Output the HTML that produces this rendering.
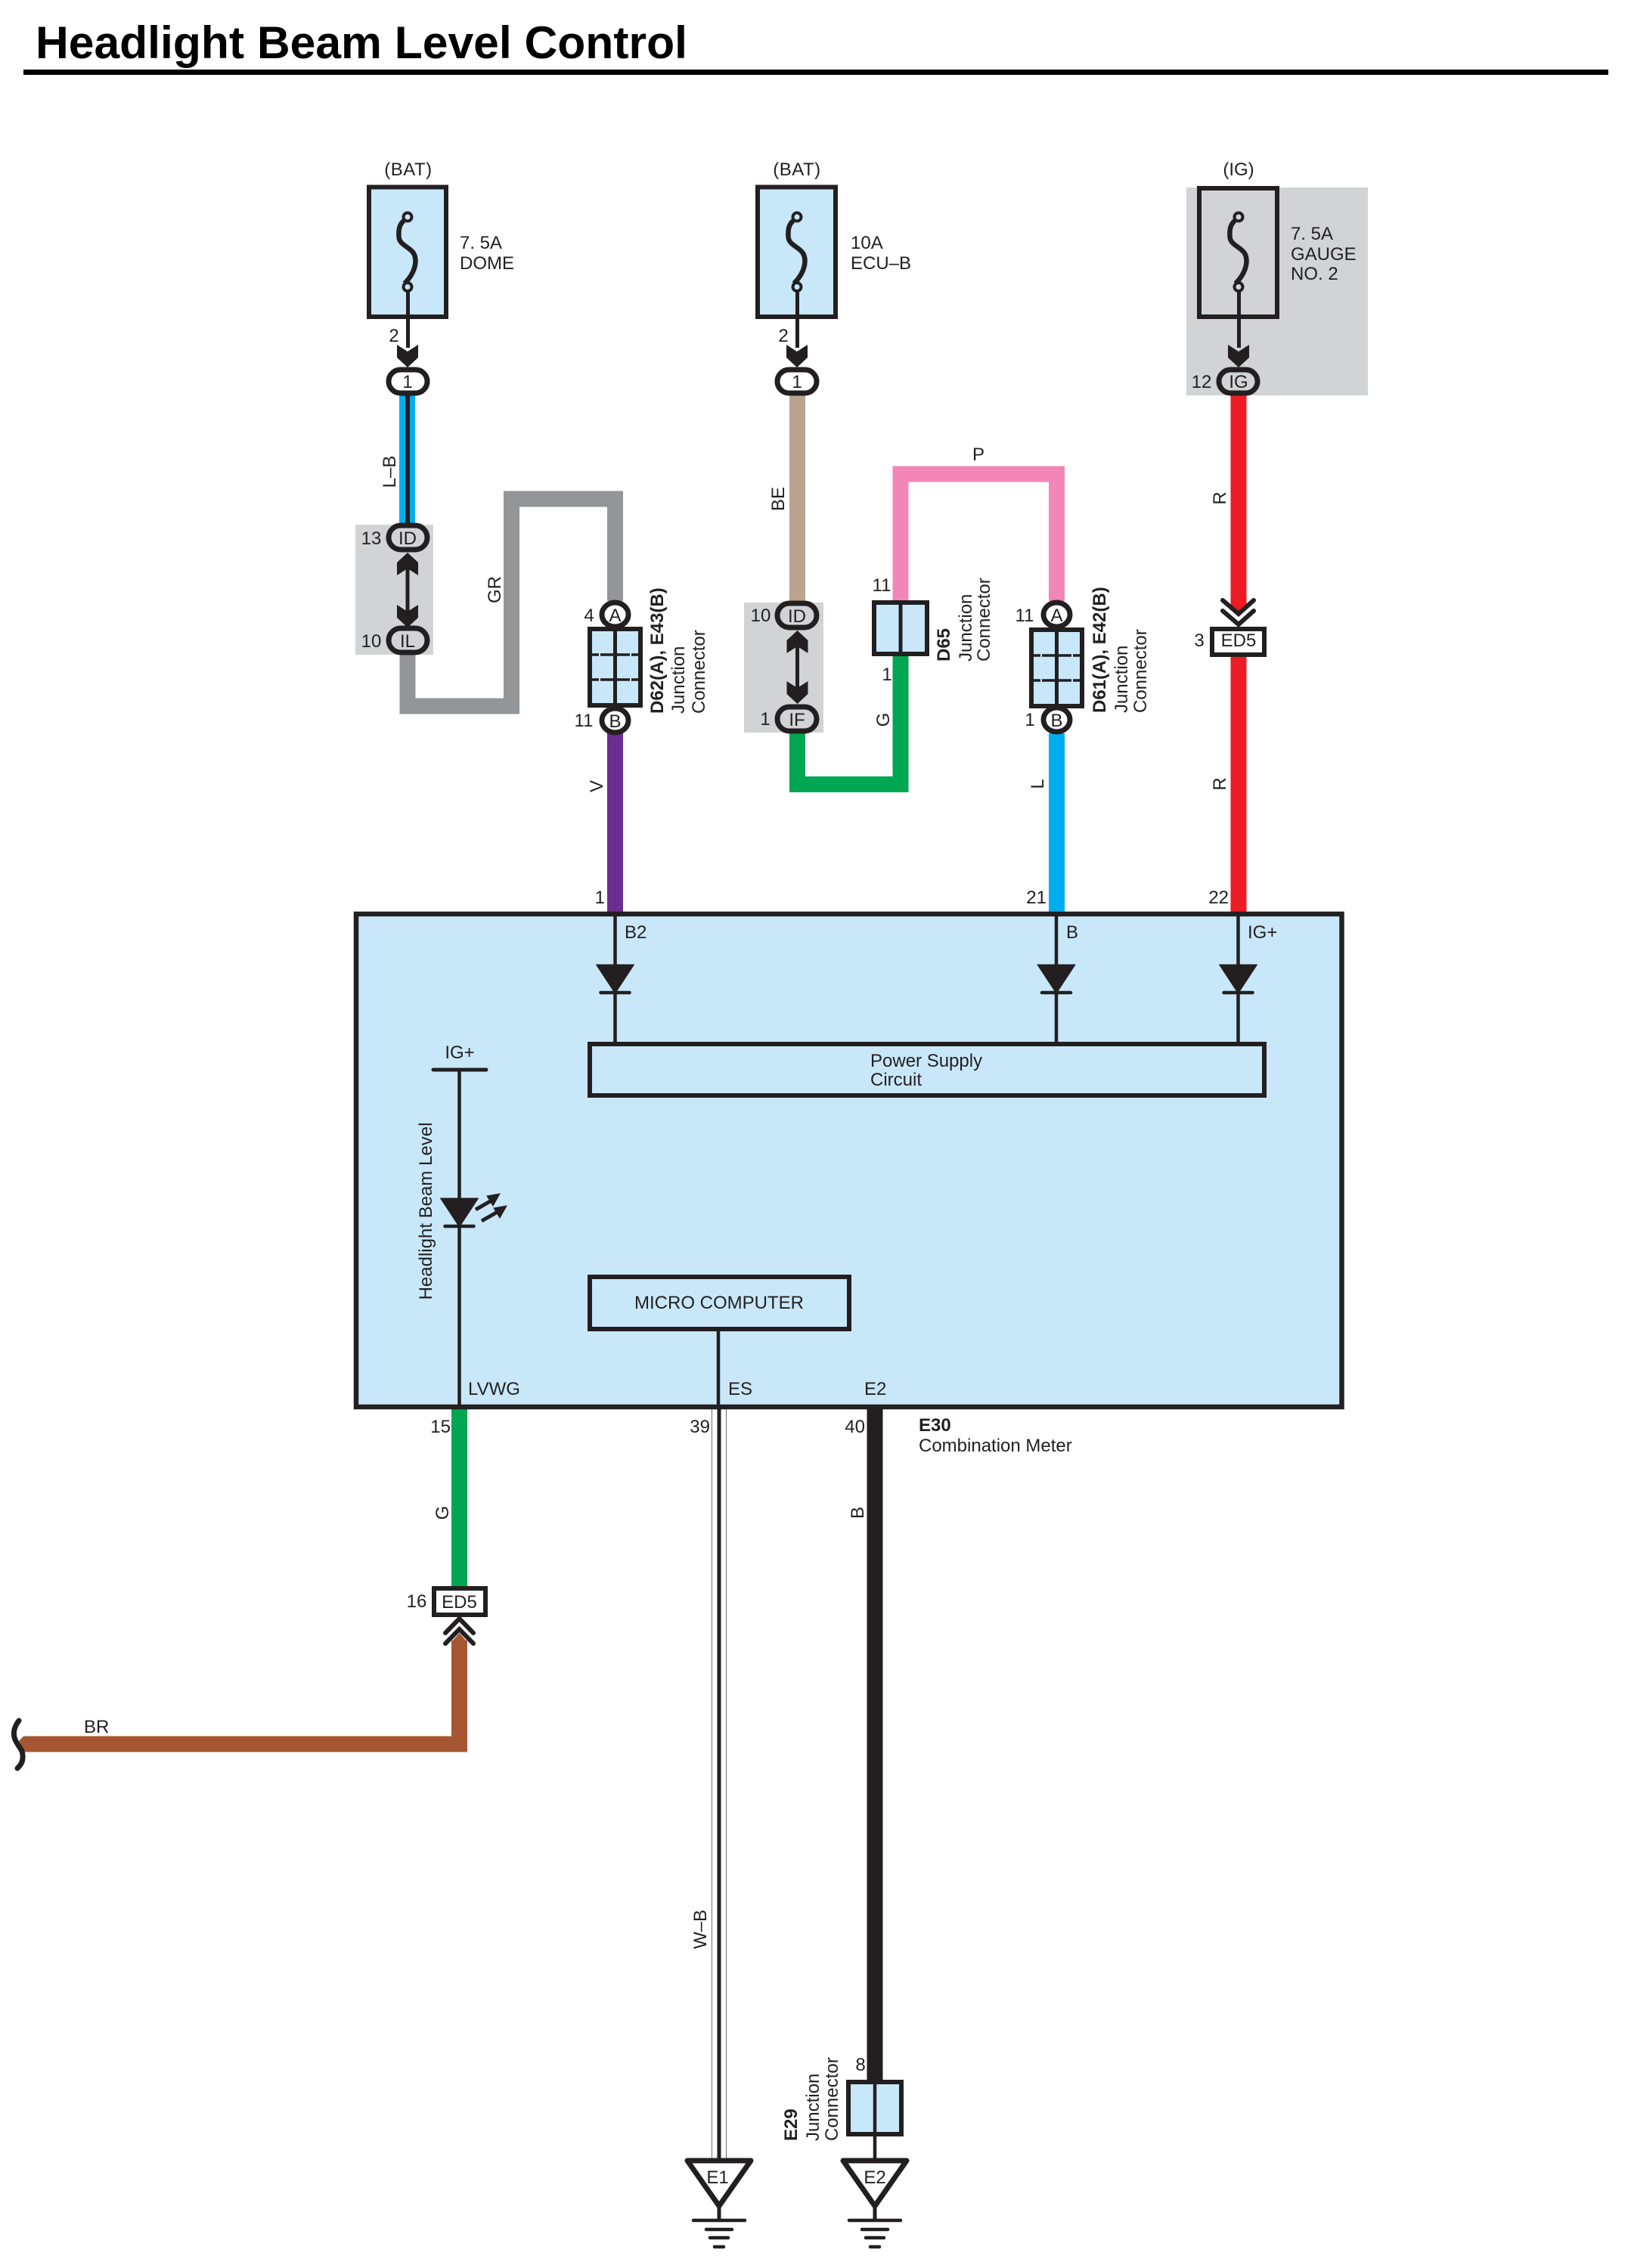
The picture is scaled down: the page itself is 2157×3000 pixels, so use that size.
<!DOCTYPE html>
<html>
<head>
<meta charset="utf-8">
<title>Headlight Beam Level Control</title>
<style>
html,body{margin:0;padding:0;background:#fff}
svg{display:block}
text{font-family:"Liberation Sans",sans-serif;font-size:24px;fill:#231f20}
.b{font-weight:bold}
.m{text-anchor:middle}
.e{text-anchor:end}
</style>
</head>
<body>
<svg xmlns="http://www.w3.org/2000/svg" width="2157" height="3000" viewBox="0 0 2157 3000">
<defs>
  <g id="fuse">
    <path d="M-5,292C-11,297 -12,304 -11.500,313C-11,324 2,326 8,335C13,344 11,360 -4,375" fill="none" stroke="#231f20" stroke-width="6.500"/>
    <circle cx="0" cy="287" r="5.500" stroke="#231f20" stroke-width="4"/>
    <circle cx="0" cy="379.500" r="5.500" stroke="#231f20" stroke-width="4"/>
    <path d="M0.500,385V460" stroke="#231f20" stroke-width="5"/>
    <path d="M-14,456L0,465L14,456V473L0,486L-14,473Z" fill="#231f20"/>
  </g>
  <path id="chD" d="M-14,-30L0,-21L14,-30V-13L0,0L-14,-13Z" fill="#231f20"/>
  <g id="jbox">
    <rect x="-33" y="0" width="67" height="101" fill="#c8e8fa" stroke="#231f20" stroke-width="6"/>
    <path d="M0.500,0V101" stroke="#231f20" stroke-width="5"/>
    <path d="M-30,34H-21M-19,34H-2M3,34H20M22,34H31M-30,67H-21M-19,67H-2M3,67H20M22,67H31" stroke="#231f20" stroke-width="3.500"/>
  </g>
  <g id="diode">
    <path d="M-25,0H25L2,35H-2Z" fill="#231f20" stroke="#231f20" stroke-width="1" stroke-linejoin="round"/>
    <path d="M-19,37H19" stroke="#231f20" stroke-width="4.500" stroke-linecap="round"/>
  </g>
  <g id="gnd" fill="none" stroke="#231f20">
    <path d="M-42,2858H42L0,2918Z" fill="#fff" stroke-width="7" stroke-linejoin="round"/>
    <path d="M0,2920V2937" stroke-width="5"/>
    <path d="M-34,2937H34M-17,2949H17M-12,2960H12M-6,2972H6" stroke-width="4.500" stroke-linecap="round"/>
  </g>
</defs>

<rect width="2157" height="3000" fill="#fff"/>

<!-- title -->
<text x="47" y="77" class="b" style="font-size:60.6px;fill:#000">Headlight Beam Level Control</text>
<rect x="31" y="92" width="2096" height="7" fill="#000"/>

<!-- grey backgrounds -->
<rect x="470" y="694" width="103" height="172" fill="#d1d3d4"/>
<rect x="984" y="797" width="105" height="172" fill="#d1d3d4"/>
<rect x="1569" y="248" width="240" height="275" fill="#d1d3d4"/>

<!-- wires -->
<g fill="none" stroke-width="21" stroke-linejoin="miter">
  <path d="M539,866V934H676.500V660H813.500V795" stroke="#939598"/>
  <path d="M1054.500,520V800" stroke="#b9a48f"/>
  <path d="M1054.500,965V1037.500H1191V866" stroke="#00a651"/>
  <path d="M1191,796V627H1397.500V795" stroke="#f287b7"/>
  <path d="M813.500,970V1206" stroke="#6c2d91"/>
  <path d="M1397.500,970V1206" stroke="#00aeef"/>
  <path d="M1638,868V1206" stroke="#ed1c24"/>
  <path d="M607.500,1862V2100" stroke="#00a651"/>
  <path d="M1157,1862V2752" stroke="#231f20"/>
  <path d="M36,2307H607.500V2170" stroke="#a65631"/>
</g>
<path d="M31,2296.500L25,2303L31,2317.500H40V2296.500Z" fill="#a65631"/>
<path d="M1627.500,522H1648.500V805L1638,815L1627.500,805Z" fill="#ed1c24"/>
<path d="M597,2172L607.500,2160L618,2172V2180H597Z" fill="#a65631"/>

<!-- L-B wire -->
<rect x="528" y="520" width="21" height="176" fill="#00aeef"/>
<rect x="536" y="520" width="6" height="176" fill="#231f20"/>

<!-- W-B wire -->
<rect x="941.500" y="1862" width="19" height="994" fill="#fff" stroke="#6d6e71" stroke-width="1"/>
<rect x="948.500" y="1862" width="5" height="994" fill="#231f20"/>

<!-- fuses -->
<g fill="#c8e8fa">
  <rect x="488" y="247.500" width="102" height="171.500" stroke="#231f20" stroke-width="6"/>
  <use href="#fuse" transform="translate(539,0)"/>
  <rect x="1002" y="247.500" width="103" height="171.500" stroke="#231f20" stroke-width="6"/>
  <use href="#fuse" transform="translate(1054,0)"/>
</g>
<g fill="#d1d3d4">
  <rect x="1586" y="249" width="103" height="170" stroke="#231f20" stroke-width="6"/>
  <use href="#fuse" transform="translate(1638,0)"/>
</g>

<!-- double arrows -->
<path d="M539,750V812M1054.500,852V912" stroke="#231f20" stroke-width="5"/>
<use href="#chD" transform="translate(539,830)"/>
<use href="#chD" transform="translate(539,731) scale(1,-1)"/>
<use href="#chD" transform="translate(1054.500,931)"/>
<use href="#chD" transform="translate(1054.500,834) scale(1,-1)"/>

<!-- ovals -->
<g stroke="#231f20" stroke-width="7">
  <rect x="514" y="489" width="51" height="31" rx="15.500" fill="#fff"/>
  <rect x="514" y="695" width="51" height="32" rx="16" fill="#d1d3d4"/>
  <rect x="514" y="831" width="51" height="32" rx="16" fill="#d1d3d4"/>
  <rect x="1028" y="489" width="52" height="31" rx="15.500" fill="#fff"/>
  <rect x="1028" y="798" width="52" height="32" rx="16" fill="#d1d3d4"/>
  <rect x="1028" y="935" width="52" height="32" rx="16" fill="#d1d3d4"/>
  <rect x="1612" y="489" width="51" height="31" rx="15.500" fill="#d1d3d4"/>
  <ellipse cx="813.500" cy="813" rx="17.500" ry="16" fill="#fff"/>
  <ellipse cx="813.500" cy="953" rx="17.500" ry="16" fill="#fff"/>
  <ellipse cx="1397.500" cy="813" rx="17.500" ry="16" fill="#fff"/>
  <ellipse cx="1397.500" cy="952" rx="17.500" ry="16" fill="#fff"/>
</g>

<!-- junction connectors -->
<use href="#jbox" transform="translate(813,832)"/>
<use href="#jbox" transform="translate(1397,833)"/>
<g>
  <rect x="1156" y="797" width="70" height="68" fill="#c8e8fa" stroke="#231f20" stroke-width="6"/>
  <path d="M1191,797V865" stroke="#231f20" stroke-width="5"/>
</g>

<!-- ED5 connectors -->
<rect x="1603" y="832" width="69" height="34" fill="#fff" stroke="#231f20" stroke-width="6"/>
<path d="M1617,794L1638,812L1658,794M1617,808L1638,826L1658,808" fill="none" stroke="#231f20" stroke-width="6" stroke-linecap="round"/>
<rect x="574" y="2101" width="68" height="35" fill="#fff" stroke="#231f20" stroke-width="6"/>
<path d="M589,2160L607.500,2141L626,2160M589,2174L607.500,2155L626,2174" fill="none" stroke="#231f20" stroke-width="6" stroke-linecap="round"/>

<!-- squiggle -->
<path d="M25,2276C18,2285 17,2294 20,2301C24,2311 31,2314 30,2325C30,2331 27,2335 23,2339" fill="none" stroke="#231f20" stroke-width="7" stroke-linecap="round"/>

<!-- main box -->
<rect x="471" y="1209" width="1303.500" height="652" fill="#c8e8fa" stroke="#231f20" stroke-width="6.500"/>
<g stroke="#231f20" stroke-width="4.500" fill="none">
  <path d="M813.500,1210V1380M1397,1210V1380M1637.500,1210V1380"/>
  <path d="M607.500,1415V1862M950,1760V1862"/>
  <path d="M573,1415H643" stroke-linecap="round" stroke-width="5"/>
</g>
<use href="#diode" transform="translate(813.500,1276)"/>
<use href="#diode" transform="translate(1397,1276)"/>
<use href="#diode" transform="translate(1637.500,1276)"/>
<use href="#diode" transform="translate(607.500,1585)"/>
<rect x="780" y="1381" width="892" height="68" fill="#c8e8fa" stroke="#231f20" stroke-width="6"/>
<rect x="780" y="1689" width="343" height="69" fill="#c8e8fa" stroke="#231f20" stroke-width="6"/>
<!-- LED arrows -->
<g stroke="#231f20" fill="#231f20">
  <path d="M629,1600L650,1588" stroke-width="5"/>
  <path d="M661,1579L644,1582L652,1595Z" stroke-width="1"/>
  <path d="M637,1615L658,1603" stroke-width="5"/>
  <path d="M670,1595L653,1598L661,1611Z" stroke-width="1"/>
</g>

<!-- E29 -->
<rect x="1122" y="2754" width="70" height="69" fill="#c8e8fa" stroke="#231f20" stroke-width="6"/>
<path d="M1157,2754V2860" stroke="#231f20" stroke-width="4.500"/>

<!-- grounds -->
<use href="#gnd" transform="translate(951,0)"/>
<use href="#gnd" transform="translate(1157,0)"/>

<!-- text -->
<text x="540" y="232" class="m" style="letter-spacing:.5px">(BAT)</text>
<text x="1054" y="232" class="m" style="letter-spacing:.5px">(BAT)</text>
<text x="1638" y="232" class="m">(IG)</text>
<text x="608" y="329">7. 5A</text>
<text x="608" y="356">DOME</text>
<text x="1125" y="329">10A</text>
<text x="1125" y="356">ECU–B</text>
<text x="1707" y="317">7. 5A</text>
<text x="1707" y="344">GAUGE</text>
<text x="1707" y="370">NO. 2</text>

<text x="521" y="452" class="m">2</text>
<text x="1036" y="452" class="m">2</text>
<text x="539" y="513" class="m">1</text>
<text x="1054" y="513" class="m">1</text>
<text x="1638" y="513" class="m">IG</text>
<text x="1589" y="513" class="m">12</text>
<text x="539" y="720" class="m">ID</text>
<text x="539" y="856" class="m">IL</text>
<text x="491" y="720" class="m">13</text>
<text x="491" y="856" class="m">10</text>
<text x="1054" y="823" class="m">ID</text>
<text x="1054" y="960" class="m">IF</text>
<text x="1006" y="822" class="m">10</text>
<text x="1012" y="959" class="m">1</text>
<text x="813.500" y="822" class="m">A</text>
<text x="813.500" y="962" class="m">B</text>
<text x="1397.500" y="822" class="m">A</text>
<text x="1397.500" y="961" class="m">B</text>
<text x="779" y="822" class="m">4</text>
<text x="772" y="961" class="m">11</text>
<text x="1355" y="822" class="m">11</text>
<text x="1362" y="960" class="m">1</text>
<text x="1166" y="782" class="m">11</text>
<text x="1173" y="900" class="m">1</text>
<text x="1294" y="609" class="m">P</text>
<text x="1586" y="855" class="m">3</text>
<text x="1638" y="855" class="m">ED5</text>

<!-- rotated wire labels -->
<text transform="translate(523,624) rotate(-90)" class="m">L–B</text>
<text transform="translate(662,780) rotate(-90)" class="m">GR</text>
<text transform="translate(1037,660) rotate(-90)" class="m">BE</text>
<text transform="translate(1176,952) rotate(-90)" class="m">G</text>
<text transform="translate(797,1040) rotate(-90)" class="m">V</text>
<text transform="translate(1380,1037) rotate(-90)" class="m">L</text>
<text transform="translate(1621,659) rotate(-90)" class="m">R</text>
<text transform="translate(1621,1037) rotate(-90)" class="m">R</text>
<text transform="translate(593,2001) rotate(-90)" class="m">G</text>
<text transform="translate(1142,2001) rotate(-90)" class="m">B</text>
<text transform="translate(934,2552) rotate(-90)" class="m">W–B</text>

<!-- rotated connector labels -->
<text transform="translate(877,944) rotate(-90)" class="b">D62(A), E43(B)</text>
<text transform="translate(905,944) rotate(-90)">Junction</text>
<text transform="translate(932,944) rotate(-90)">Connector</text>
<text transform="translate(1256,875) rotate(-90)" class="b">D65</text>
<text transform="translate(1285,875) rotate(-90)">Junction</text>
<text transform="translate(1309,875) rotate(-90)">Connector</text>
<text transform="translate(1462,943) rotate(-90)" class="b">D61(A), E42(B)</text>
<text transform="translate(1491,943) rotate(-90)">Junction</text>
<text transform="translate(1516,943) rotate(-90)">Connector</text>
<text transform="translate(1054,2832) rotate(-90)" class="b">E29</text>
<text transform="translate(1083,2832) rotate(-90)">Junction</text>
<text transform="translate(1108,2832) rotate(-90)">Connector</text>

<!-- pin numbers at main box -->
<text x="800" y="1195" class="e">1</text>
<text x="1384" y="1195" class="e">21</text>
<text x="1625" y="1195" class="e">22</text>
<text x="826" y="1241">B2</text>
<text x="1410" y="1241">B</text>
<text x="1650" y="1241">IG+</text>
<text x="1151" y="1411">Power Supply</text>
<text x="1151" y="1436">Circuit</text>
<text x="608" y="1400" class="m">IG+</text>
<text transform="translate(571,1602) rotate(-90)" class="m">Headlight Beam Level</text>
<text x="951" y="1731" class="m">MICRO COMPUTER</text>
<text x="619" y="1845">LVWG</text>
<text x="963" y="1845">ES</text>
<text x="1143" y="1845">E2</text>
<text x="596" y="1895" class="e">15</text>
<text x="939" y="1895" class="e">39</text>
<text x="1144" y="1895" class="e">40</text>
<text x="1215" y="1893" class="b">E30</text>
<text x="1215" y="1920">Combination Meter</text>

<text x="551" y="2126" class="m">16</text>
<text x="607.500" y="2127" class="m">ED5</text>
<text x="111" y="2292">BR</text>
<text x="1138" y="2739" class="m">8</text>
<text x="949" y="2888" class="m">E1</text>
<text x="1157" y="2888" class="m">E2</text>
</svg>
</body>
</html>
